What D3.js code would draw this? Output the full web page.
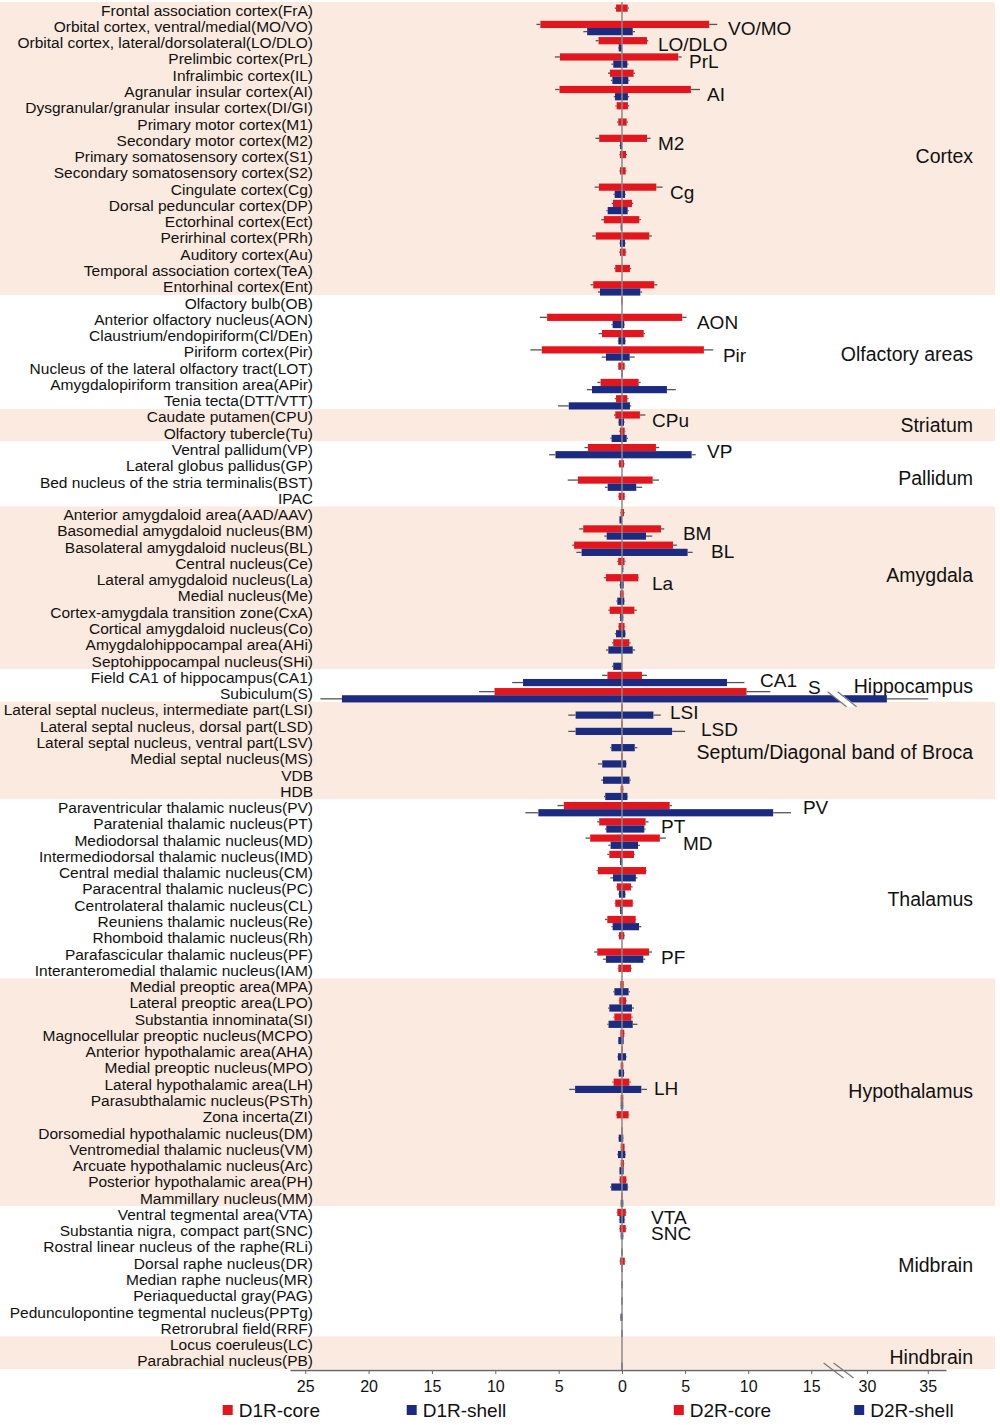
<!DOCTYPE html>
<html>
<head>
<meta charset="utf-8">
<script src="https://cdn.jsdelivr.net/npm/d3@7.9.0/dist/d3.min.js"></script>
<style>
  body { margin: 0; background: #fff; }
  svg text { font-family: "Liberation Sans", Arial, sans-serif; fill: #111; }
</style>
</head>
<body>
<div id="chart"></div>
<script>
// brain regions, top to bottom
const regions = [
  'Frontal association cortex(FrA)', 'Orbital cortex, ventral/medial(MO/VO)', 'Orbital cortex, lateral/dorsolateral(LO/DLO)',
  'Prelimbic cortex(PrL)', 'Infralimbic cortex(IL)', 'Agranular insular cortex(AI)', 'Dysgranular/granular insular cortex(DI/GI)',
  'Primary motor cortex(M1)', 'Secondary motor cortex(M2)', 'Primary somatosensory cortex(S1)', 'Secondary somatosensory cortex(S2)',
  'Cingulate cortex(Cg)', 'Dorsal peduncular cortex(DP)', 'Ectorhinal cortex(Ect)', 'Perirhinal cortex(PRh)', 'Auditory cortex(Au)',
  'Temporal association cortex(TeA)', 'Entorhinal cortex(Ent)',
  'Olfactory bulb(OB)', 'Anterior olfactory nucleus(AON)', 'Claustrium/endopiriform(Cl/DEn)', 'Piriform cortex(Pir)',
  'Nucleus of the lateral olfactory tract(LOT)', 'Amygdalopiriform transition area(APir)', 'Tenia tecta(DTT/VTT)',
  'Caudate putamen(CPU)', 'Olfactory tubercle(Tu)',
  'Ventral pallidum(VP)', 'Lateral globus pallidus(GP)', 'Bed nucleus of the stria terminalis(BST)', 'IPAC',
  'Anterior amygdaloid area(AAD/AAV)', 'Basomedial amygdaloid nucleus(BM)', 'Basolateral amygdaloid nucleus(BL)',
  'Central nucleus(Ce)', 'Lateral amygdaloid nucleus(La)', 'Medial nucleus(Me)', 'Cortex-amygdala transition zone(CxA)',
  'Cortical amygdaloid nucleus(Co)', 'Amygdalohippocampal area(AHi)', 'Septohippocampal nucleus(SHi)',
  'Field CA1 of hippocampus(CA1)', 'Subiculum(S)',
  'Lateral septal nucleus, intermediate part(LSI)', 'Lateral septal nucleus, dorsal part(LSD)',
  'Lateral septal nucleus, ventral part(LSV)', 'Medial septal nucleus(MS)', 'VDB', 'HDB',
  'Paraventricular thalamic nucleus(PV)', 'Paratenial thalamic nucleus(PT)', 'Mediodorsal thalamic nucleus(MD)',
  'Intermediodorsal thalamic nucleus(IMD)', 'Central medial thalamic nucleus(CM)', 'Paracentral thalamic nucleus(PC)',
  'Centrolateral thalamic nucleus(CL)', 'Reuniens thalamic nucleus(Re)', 'Rhomboid thalamic nucleus(Rh)',
  'Parafascicular thalamic nucleus(PF)', 'Interanteromedial thalamic nucleus(IAM)',
  'Medial preoptic area(MPA)', 'Lateral preoptic area(LPO)', 'Substantia innominata(SI)',
  'Magnocellular preoptic nucleus(MCPO)', 'Anterior hypothalamic area(AHA)', 'Medial preoptic nucleus(MPO)',
  'Lateral hypothalamic area(LH)', 'Parasubthalamic nucleus(PSTh)', 'Zona incerta(ZI)',
  'Dorsomedial hypothalamic nucleus(DM)', 'Ventromedial thalamic nucleus(VM)', 'Arcuate hypothalamic nucleus(Arc)',
  'Posterior hypothalamic area(PH)', 'Mammillary nucleus(MM)',
  'Ventral tegmental area(VTA)', 'Substantia nigra, compact part(SNC)', 'Rostral linear nucleus of the raphe(RLi)',
  'Dorsal raphe nucleus(DR)', 'Median raphe nucleus(MR)', 'Periaqueductal gray(PAG)',
  'Pedunculopontine tegmental nucleus(PPTg)', 'Retrorubral field(RRF)',
  'Locus coeruleus(LC)', 'Parabrachial nucleus(PB)'
];

// [group name, number of regions]
const groups = [
  ['Cortex', 18], ['Olfactory areas', 7], ['Striatum', 2], ['Pallidum', 4], ['Amygdala', 10],
  ['Hippocampus', 2], ['Septum/Diagonal band of Broca', 6], ['Thalamus', 11], ['Hypothalamus', 14],
  ['Midbrain', 8], ['Hindbrain', 2]
];
// row (fractional) where each group name sits
const groupLabelRow = [8.97, 21.14, 25.5, 28.76, 34.72, 41.54, 45.6, 54.64, 66.44, 77.13, 82.78];

const d1Core = [0.47,6.44,1.85,4.9,0.95,4.93,0.42,0.29,1.8,0.16,0.16,1.82,0.71,1.43,2.06,0.16,0.53,2.27,
  0.05,5.91,1.58,6.33,0.29,1.69,0.47,
  0.53,0.16,
  2.69,0.24,3.48,0.26,
  0.1,3.06,3.78,0.3,1.27,0.15,0.97,0.26,0.69,0,
  1.15,10.06,
  0.05,0.05,0.05,0.05,0.05,0.1,
  4.59,1.8,2.51,1.0,1.9,0.4,0.53,1.16,0.24,1.95,0.29,
  0.13,0.21,0.6,0.13,0.05,0.1,0.66,0.1,0.42,0.05,0.1,0.1,0.18,0.05,
  0.37,0.18,0,0.15,0,0,0,0,
  0,0];
const d1CoreErr = [0.1,0.31,0.23,0.4,0.15,0.35,0.1,0.1,0.3,0.05,0.05,0.34,0.1,0.2,0.29,0.05,0.1,0.21,
  0.02,0.58,0.27,0.9,0.05,0.26,0.1,
  0.1,0.05,
  0.27,0.05,0.8,0.05,
  0.05,0.32,0.15,0.08,0.16,0.03,0.1,0.05,0.1,0,
  0.42,1.22,
  0.02,0.02,0.02,0.02,0.02,0.02,
  0.5,0.16,0.37,0.16,0.1,0.05,0.05,0.18,0.05,0.24,0.05,
  0.03,0.05,0.08,0.03,0.02,0.02,0.1,0.02,0.05,0.02,0.02,0.02,0.05,0.02,
  0.05,0.05,0,0.05,0,0,0,0,
  0,0];
const d1Shell = [0,2.75,0.26,0.69,0.76,0.55,0,0,0.15,0,0,0.58,1.13,0.1,0.16,0,0,1.74,
  0,0.74,0.29,1.27,0.05,2.37,4.2,
  0.26,0.82,
  5.25,0,1.13,0,
  0.2,1.21,3.19,0,0.15,0.37,0.15,0.47,1.08,0.69,
  7.81,22.1,
  3.66,3.66,0.84,1.56,1.5,1.32,
  6.6,1.24,0.9,0.15,0.71,0.24,0.15,0.74,0,1.27,0,
  0.6,1.0,1.06,0.29,0.32,0.26,3.7,0.1,0,0.26,0.32,0.2,0.85,0.1,
  0.2,0.1,0.05,0.05,0.05,0.05,0.12,0.05,
  0,0.05];
const d1ShellErr = [0,0.3,0.05,0.15,0.12,0.1,0,0,0.05,0,0,0.1,0.1,0.03,0.05,0,0,0.15,
  0,0.1,0.05,0.33,0.02,0.4,0.84,
  0.05,0.1,
  0.5,0,0.22,0,
  0.03,0.19,0.41,0,0.05,0.08,0.03,0.1,0.19,0.1,
  0.86,1.7,
  0.58,0.58,0.1,0.34,0.15,0.1,
  1.03,0.1,0.18,0.03,0.21,0.05,0.03,0.1,0,0.24,0,
  0.08,0.1,0.1,0.03,0.05,0.03,0.47,0.02,0,0.03,0.05,0.03,0.1,0.02,
  0.05,0.03,0.02,0.02,0.02,0.02,0.03,0.02,
  0,0.02];
const d2Core = [0.45,6.91,1.98,4.46,0.92,5.46,0.47,0.37,1.98,0.32,0.29,2.72,0.79,1.37,2.16,0.29,0.63,2.56,
  0.05,4.77,1.72,6.49,0.21,1.32,0.42,
  1.42,0.21,
  2.69,0.16,2.43,0.21,
  0.16,3.09,4.04,0.2,1.29,0.13,0.98,0.2,0.58,0,
  1.58,9.87,
  0.05,0.05,0.05,0.05,0.05,0.1,
  3.78,1.87,3.0,0.95,1.9,0.71,0.85,1.08,0.18,2.14,0.71,
  0.13,0.32,0.74,0.18,0.05,0.1,0.58,0.1,0.52,0.05,0.2,0.15,0.34,0.05,
  0.3,0.3,0,0.22,0,0,0,0,
  0,0];
const d2CoreErr = [0.1,0.64,0.1,0.27,0.1,0.72,0.1,0.1,0.29,0.08,0.05,0.5,0.1,0.12,0.21,0.05,0.1,0.24,
  0.02,0.35,0.1,0.74,0.05,0.16,0.1,
  0.43,0.05,
  0.26,0.05,0.5,0.05,
  0.05,0.26,0.31,0.08,0.05,0.03,0.19,0.05,0.1,0,
  0.39,1.89,
  0.02,0.02,0.02,0.02,0.02,0.03,
  0.18,0.23,0.48,0.05,0.05,0.13,0.05,0.05,0.05,0.24,0.05,
  0.03,0.05,0.1,0.03,0.02,0.02,0.1,0.02,0.05,0.02,0.03,0.03,0.05,0.02,
  0.05,0.05,0,0.05,0,0,0,0,
  0,0];
const d2Shell = [0,0.85,0,0.42,0.5,0.47,0,0,0,0,0,0.24,0.45,0,0.24,0,0,1.45,
  0,0.18,0.26,0.61,0.05,3.56,0.63,
  0.16,0.37,
  5.52,0,1.13,0,
  0,1.9,5.2,0.1,0.13,0.18,0.1,0.26,0.85,0,
  8.32,31.64,
  2.49,3.97,1.01,0.33,0.6,0.43,
  11.98,1.77,1.27,0,1.1,0.26,0.05,1.35,0,1.69,0,
  0.52,0.79,0.85,0.13,0.32,0.16,1.53,0.1,0,0.1,0.26,0.13,0.45,0.1,
  0.2,0.1,0.05,0.05,0.05,0.05,0.05,0.05,
  0,0.05];
const d2ShellErr = [0,0.18,0,0.1,0.1,0.1,0,0,0,0,0,0.05,0.08,0,0.05,0,0,0.15,
  0,0.05,0.05,0.4,0.02,0.7,0.1,
  0.05,0.1,
  0.32,0,0.47,0,
  0,0.5,0.4,0.03,0.03,0.05,0.03,0.05,0.19,0,
  1.38,3.4,
  0.58,1.03,0.2,0.05,0.1,0.05,
  1.42,0.1,0.15,0,0.13,0.05,0.02,0.18,0,0.16,0,
  0.1,0.16,0.37,0.03,0.05,0.03,0.45,0.02,0,0.02,0.05,0.03,0.05,0.02,
  0.05,0.03,0.02,0.02,0.02,0.02,0.02,0.02,
  0,0.02];

const xTicks = [-25, -20, -15, -10, -5, 0, 5, 10, 15, 30, 35];
const legendNames = ['D1R-core', 'D1R-shell', 'D2R-core', 'D2R-shell'];

// short labels next to the bars: [text, row, value where text starts, dy]
const callouts = [
  ['VO/MO', 1, 8.4, 2], ['LO/DLO', 2, 2.85, 1.5], ['PrL', 3, 5.31, 3], ['AI', 5, 6.74, 2.5],
  ['M2', 8, 2.85, 3], ['Cg', 11, 3.8, 3], ['AON', 19, 5.94, 3], ['Pir', 21, 8.0, 4],
  ['CPu', 25, 2.38, 4], ['VP', 27, 6.74, 2], ['BM', 32, 4.83, 3], ['BL', 33, 7.05, 4],
  ['La', 35, 2.38, 3.5], ['CA1', 41, 10.94, 3], ['S', 42, 14.74, -6], ['LSI', 43, 3.8, 3],
  ['LSD', 44, 6.26, 3], ['PV', 49, 14.34, 0], ['PT', 50, 3.09, 3], ['MD', 51, 4.83, 3],
  ['PF', 58, 3.09, 3], ['LH', 66, 2.54, 4], ['VTA', 74, 2.3, 3], ['SNC', 75, 2.3, 3]
];

const RED = '#e3161d';
const BLUE = '#1b2b82';
const PEACH = '#fbeadf';
const ERR = '#555';

const width = 1000, height = 1425;
const axisY = 1370;
const breakLo = 17, breakHi = 28.5;

const svg = d3.select('#chart').append('svg')
  .attr('width', width).attr('height', height);

// broken x axis: 17..28.5 squeezed into a few pixels
const x = d3.scaleLinear()
  .domain([-26.2, 0, breakLo, breakHi, 36.5])
  .range([290, 622, 836.5, 848.7, 946]);

const y = d3.scaleBand().domain(regions).range([2, 1369]).padding(0);
const bw = y.bandwidth();
const rowC = (i) => y(regions[i]) + bw / 2;

// group background bands
let start = 0;
groups.forEach(([name, n], gi) => {
  const top = y(regions[start]);
  const bottom = y(regions[start + n - 1]) + bw;
  svg.append('rect')
    .attr('x', 0).attr('y', top)
    .attr('width', 995).attr('height', bottom - top)
    .attr('fill', gi % 2 === 0 ? PEACH : '#fff');
  svg.append('text')
    .attr('x', 973)
    .attr('y', 10.1 + groupLabelRow[gi] * bw)
    .attr('text-anchor', 'end')
    .attr('dominant-baseline', 'central')
    .style('font-size', '19.5px')
    .text(name);
  start += n;
});

// region names
svg.append('g').selectAll('text')
  .data(regions)
  .join('text')
  .attr('x', 313)
  .attr('y', (d, i) => rowC(i))
  .attr('text-anchor', 'end')
  .attr('dominant-baseline', 'central')
  .style('font-size', '15.5px')
  .text((d) => d);

const series = [
  { vals: d1Core, errs: d1Core.map((d, i) => d1CoreErr[i]), sign: -1, color: RED, top: true },
  { vals: d1Shell, errs: d1ShellErr, sign: -1, color: BLUE, top: false },
  { vals: d2Core, errs: d2CoreErr, sign: 1, color: RED, top: true },
  { vals: d2Shell, errs: d2ShellErr, sign: 1, color: BLUE, top: false }
];

const barH = 7.2;
const bars = svg.append('g').attr('class', 'bars');
const whiskers = svg.append('g').attr('class', 'whiskers');

series.forEach((s) => {
  const rows = s.vals.map((v, i) => ({ v, e: s.errs[i], i })).filter((d) => d.v > 0);
  const yTop = (d) => s.top ? rowC(d.i) - 5.6 : rowC(d.i) - 5.6 + barH;
  bars.selectAll(null)
    .data(rows)
    .join('rect')
    .attr('x', (d) => Math.min(x(0), x(s.sign * d.v)))
    .attr('y', yTop)
    .attr('width', (d) => Math.abs(x(s.sign * d.v) - x(0)))
    .attr('height', barH)
    .attr('fill', s.color);
  whiskers.selectAll(null)
    .data(rows.filter((d) => d.e > 0))
    .join('line')
    .attr('x1', (d) => x(s.sign * d.v))
    .attr('x2', (d) => x(s.sign * (d.v + d.e)))
    .attr('y1', (d) => yTop(d) + barH / 2)
    .attr('y2', (d) => yTop(d) + barH / 2)
    .attr('stroke', ERR)
    .attr('stroke-width', 1.3);
});

// zero line
svg.append('line')
  .attr('x1', x(0)).attr('x2', x(0))
  .attr('y1', 2).attr('y2', axisY)
  .attr('stroke', '#8a8a8a')
  .attr('stroke-width', 1.5);

// break marks: on every bar that crosses the gap and on the axis
const gapMid = (x(breakLo) + x(breakHi)) / 2;
function breakMark(cy) {
  const g = svg.append('g');
  g.append('polygon')
    .attr('points', [[gapMid - 15, cy - 7], [gapMid - 4, cy - 7], [gapMid + 15, cy + 8], [gapMid + 4, cy + 8]].join(' '))
    .attr('fill', '#fff');
  [-10, 0].forEach((dx) => {
    g.append('line')
      .attr('x1', gapMid - 5 + dx).attr('y1', cy - 7)
      .attr('x2', gapMid + 14 + dx).attr('y2', cy + 8)
      .attr('stroke', '#777').attr('stroke-width', 1.2);
  });
}
series.forEach((s) => {
  s.vals.forEach((v, i) => {
    if (s.sign > 0 && v > breakHi) breakMark(rowC(i) - 5.6 + (s.top ? 0 : barH) + barH / 2);
  });
});

// callouts
svg.append('g').selectAll('text')
  .data(callouts)
  .join('text')
  .attr('x', (d) => x(d[2]))
  .attr('y', (d) => rowC(d[1]) + d[3])
  .attr('dominant-baseline', 'central')
  .style('font-size', '19px')
  .text((d) => d[0]);

// x axis
const axis = svg.append('g')
  .attr('transform', `translate(0,${axisY})`)
  .call(d3.axisBottom(x)
    .tickValues(xTicks)
    .tickFormat((d) => Math.abs(d))
    .tickSize(4)
    .tickSizeOuter(0)
    .tickPadding(7));
axis.select('.domain').attr('stroke', '#666').attr('stroke-width', 1.5);
axis.selectAll('.tick line').attr('stroke', '#666');
axis.selectAll('.tick text')
  .style('font-size', '16px')
  .style('font-family', '"Liberation Sans", Arial, sans-serif')
  .attr('fill', '#111');

// axis break slashes
[-10, 0].forEach((dx) => {
  svg.append('line')
    .attr('x1', gapMid - 9 + dx).attr('y1', axisY - 7)
    .attr('x2', gapMid + 11 + dx).attr('y2', axisY + 8)
    .attr('stroke', '#777').attr('stroke-width', 1.2);
});

// legend
const legendX = [222.7, 406.7, 673.8, 854.2];
const legendColor = [RED, BLUE, RED, BLUE];
const legend = svg.append('g').selectAll('g')
  .data(legendNames)
  .join('g')
  .attr('transform', (d, i) => `translate(${legendX[i]},1405)`);
legend.append('rect')
  .attr('width', 10).attr('height', 10)
  .attr('fill', (d, i) => legendColor[i]);
legend.append('text')
  .attr('x', 16).attr('y', 11.7)
  .style('font-size', '19px')
  .text((d) => d);
</script>
</body>
</html>
